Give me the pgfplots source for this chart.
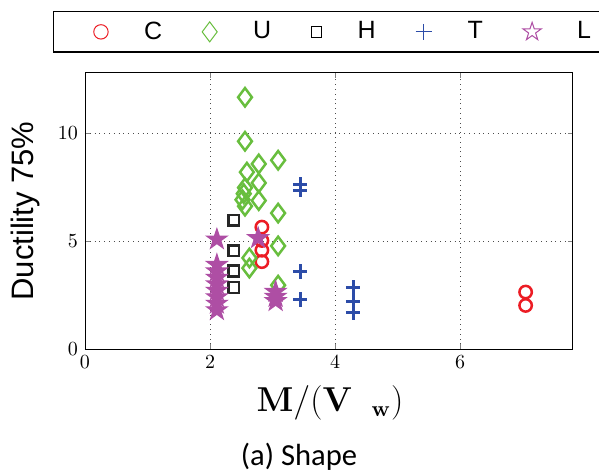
\documentclass[border=0pt]{standalone}
\usepackage[no-math]{fontspec}
\usepackage{pgfplots}
\pgfplotsset{compat=1.18}
\usepackage{pgfplotstable}

\newfontfamily\helvfont{Liberation Sans}
\newfontfamily\califont{Carlito}

\definecolor{cRed}{RGB}{236,28,36}
\definecolor{cGreen}{RGB}{104,190,62}
\definecolor{cBlue}{RGB}{44,76,168}
\definecolor{cPurple}{RGB}{174,78,164}

% five-pointed star (outer radius 1, inner radius 0.382)
\pgfdeclareplotmark{pentagram}{%
  \pgfpathmoveto{\pgfqpoint{0pt}{\pgfplotmarksize}}%
  \pgfpathlineto{\pgfqpoint{-0.2245\pgfplotmarksize}{0.3090\pgfplotmarksize}}%
  \pgfpathlineto{\pgfqpoint{-0.9511\pgfplotmarksize}{0.3090\pgfplotmarksize}}%
  \pgfpathlineto{\pgfqpoint{-0.3633\pgfplotmarksize}{-0.1180\pgfplotmarksize}}%
  \pgfpathlineto{\pgfqpoint{-0.5878\pgfplotmarksize}{-0.8090\pgfplotmarksize}}%
  \pgfpathlineto{\pgfqpoint{0pt}{-0.3820\pgfplotmarksize}}%
  \pgfpathlineto{\pgfqpoint{0.5878\pgfplotmarksize}{-0.8090\pgfplotmarksize}}%
  \pgfpathlineto{\pgfqpoint{0.3633\pgfplotmarksize}{-0.1180\pgfplotmarksize}}%
  \pgfpathlineto{\pgfqpoint{0.9511\pgfplotmarksize}{0.3090\pgfplotmarksize}}%
  \pgfpathlineto{\pgfqpoint{0.2245\pgfplotmarksize}{0.3090\pgfplotmarksize}}%
  \pgfpathclose
  \pgfusepathqfillstroke}

\pgfplotstableread{
x y
2.83 5.65
2.83 5.03
2.83 4.58
2.83 4.05
7.05 2.64
7.05 2.02
}\tblC

\pgfplotstableread{
x y
2.56 11.67
2.56 9.63
3.09 8.75
2.78 8.58
2.59 8.20
2.78 7.70
2.56 7.48
2.54 7.20
2.52 6.92
2.78 6.88
2.56 6.62
3.09 6.30
3.09 4.78
2.63 4.22
2.63 3.75
3.09 2.96
}\tblU

\pgfplotstableread{
x y
2.38 5.97
2.38 4.55
2.38 3.62
2.38 2.85
}\tblH

\pgfplotstableread{
x y
3.44 7.62
3.44 7.36
3.44 3.60
3.44 2.30
4.29 2.85
4.29 2.20
4.29 1.70
}\tblT

\pgfplotstableread{
x y
2.11 5.08
2.11 3.90
2.11 3.60
2.11 3.30
2.11 3.00
2.11 2.70
2.11 2.40
2.11 2.10
2.11 1.80
2.77 5.14
3.05 2.65
3.05 2.42
3.05 2.22
}\tblL

\begin{document}
\begin{tikzpicture}
\begin{axis}[
  scale only axis,
  width=243.75pt, height=138.05pt,
  xmin=0, xmax=7.8, ymin=0, ymax=12.8,
  xtick={0,2,4,6}, ytick={0,5,10},
  major tick length=2.5pt,
  xmajorgrids, ymajorgrids,
  grid style={dotted, gray!60!black},
  clip=false,
  legend columns=5,
  legend style={
    at={(0,1)}, anchor=north west, xshift=-16pt, yshift=31pt,
    draw=black, line width=0.75pt, fill=white,
    font=\helvfont\fontsize{12.5}{14}\selectfont,
    inner xsep=20pt, inner ysep=3pt,
    /tikz/every odd column/.append style={column sep=16pt},
    /tikz/every even column/.append style={column sep=18pt},
  },
]
\addlegendimage{only marks, mark=o, mark size=3.6pt, draw=cRed, line width=0.5pt}
\addlegendentry{C}
\addlegendimage{only marks, mark=diamond, mark size=5pt, draw=cGreen, line width=0.5pt}
\addlegendentry{U}
\addlegendimage{only marks, mark=square, mark size=2.6pt, draw=black, line width=0.5pt}
\addlegendentry{H}
\addlegendimage{only marks, mark=+, mark size=4pt, draw=cBlue, line width=0.5pt}
\addlegendentry{T}
\addlegendimage{only marks, mark=pentagram, mark size=4.8pt, draw=cPurple, fill=white, line width=0.5pt}
\addlegendentry{L}

\addplot[forget plot, only marks, mark=o, mark size=3.1pt, draw=cRed, line width=1.25pt] table {\tblC};
\addplot[forget plot, only marks, mark=diamond, mark size=4.6pt, draw=cGreen, line width=1.25pt] table {\tblU};
\addplot[forget plot, only marks, mark=square, mark size=2.7pt, draw=black!85, line width=1.25pt] table {\tblH};
\addplot[forget plot, only marks, mark=+, mark size=3.6pt, draw=cBlue, line width=1.5pt] table {\tblT};
\addplot[forget plot, only marks, mark=pentagram, mark size=5.3pt, draw=cPurple, fill=cPurple, line width=0.6pt] table {\tblL};
\end{axis}
% axis titles and caption
\node[rotate=90, font=\helvfont\fontsize{15.5}{18}\selectfont] at (-30pt,69pt) {Ductility 75\%};
\node[font=\fontsize{16}{19}\selectfont] at (122.5pt,-27pt) {$\mathbf{M}/(\mathbf{V}\;\;{}_{\mathbf{w}})$};
\node[font=\califont\fontsize{15.3}{18}\selectfont] at (107pt,-54pt) {(a) Shape};
\pgfresetboundingbox
\useasboundingbox (-42.5pt,-63pt) rectangle (257pt,174.5pt);
\end{tikzpicture}
\end{document}
